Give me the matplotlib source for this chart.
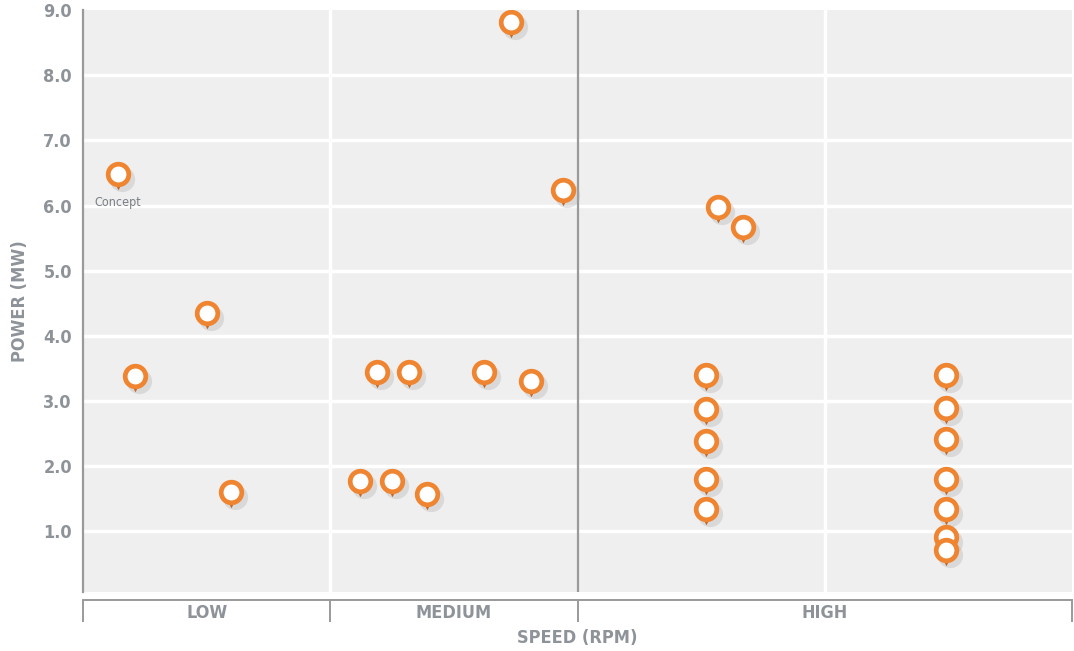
import numpy as np
import matplotlib.pyplot as plt
import matplotlib.transforms as mtransforms

# speed position (0-1 low, 1-2 medium, 2-4 high) and power (MW)
speed = [0.14, 0.21, 0.50, 0.60,
         1.12, 1.19, 1.25, 1.32, 1.39, 1.62, 1.73, 1.81, 1.94,
         2.57, 2.67, 2.52, 2.52, 2.52, 2.52, 2.52,
         3.49, 3.49, 3.49, 3.49, 3.49, 3.49, 3.49]
power = [6.48, 3.39, 4.35, 1.61,
         1.77, 3.45, 1.78, 3.45, 1.57, 3.45, 8.81, 3.30, 6.24,
         5.98, 5.67, 3.40, 2.88, 2.39, 1.81, 1.34,
         3.40, 2.90, 2.41, 1.81, 1.35, 0.92, 0.71]
categories = ['LOW', 'MEDIUM', 'HIGH']
cat_centers = [0.5, 1.5, 3.0]
cat_edges = [0, 1, 2, 4]
yticks = [1, 2, 3, 4, 5, 6, 7, 8, 9]
note_idx, note_text = 0, 'Concept'

C_ORANGE = '#ef8531'
C_TIP = '#c9641e'
C_GRAY = '#8e9399'
C_BG = '#efefef'
TXT = dict(family='DejaVu Sans', fontstretch='condensed', fontweight='bold',
           fontsize=13, color=C_GRAY)

fig = plt.figure(figsize=(10.74, 6.51), dpi=100, facecolor='white')
ax = fig.add_axes([83/1074, 1 - 592/651, 989/1074, 582/651])
ax.set_facecolor(C_BG)
ax.set_xlim(0, 4)
ax.set_ylim(0.07, 9.0)

# grid
for v in yticks[:-1]:
    ax.axhline(v, color='white', lw=2.5, zorder=1)
ax.axvline(1, color='white', lw=2.5, zorder=1)
ax.axvline(3, color='white', lw=2.5, zorder=1)
ax.axvline(2, color='#9a9a9a', lw=1.6, zorder=2)

# pins: shadow, tip, head
sh = mtransforms.ScaledTranslation(4/100, -5/100, fig.dpi_scale_trans)
ax.scatter(speed, power, s=330, color='#a8a8a8', alpha=0.3, lw=0,
           transform=ax.transData + sh, zorder=3)
tip = mtransforms.ScaledTranslation(0, -12/100, fig.dpi_scale_trans)
ax.scatter(speed, power, s=30, marker='v', color=C_TIP, lw=0,
           transform=ax.transData + tip, zorder=4)
ax.scatter(speed, power, s=220, facecolor='white', edgecolor=C_ORANGE,
           linewidth=3.4, zorder=5)

ax.annotate(note_text, (speed[note_idx], power[note_idx]),
            xytext=(0, -20), textcoords='offset points', ha='center',
            va='center', fontsize=9, color='#7a7f85', family='DejaVu Sans',
            fontstretch='condensed', zorder=6)

# axes styling
for s in ['top', 'right']:
    ax.spines[s].set_visible(False)
ax.spines['left'].set_color('#9a9a9a')
ax.spines['left'].set_linewidth(1.6)
ax.spines['bottom'].set_color('#9a9a9a')
ax.spines['bottom'].set_linewidth(1.4)
ax.spines['bottom'].set_position(('outward', 6))

ax.set_yticks(yticks)
ax.set_yticklabels([f'{v:.1f}' for v in yticks], **TXT)
ax.tick_params(axis='y', length=0, pad=8)

ax.set_xticks(cat_edges)
ax.set_xticklabels([])
ax.tick_params(axis='x', which='major', length=16, width=1.4,
               color='#9a9a9a', direction='out')
ax.set_xticks(cat_centers, minor=True)
ax.set_xticklabels(categories, minor=True, **TXT)
ax.tick_params(axis='x', which='minor', length=0, pad=3)

ax.set_xlabel('SPEED (RPM)', labelpad=1, **TXT)
ax.set_ylabel('POWER (MW)', labelpad=10, **TXT)

fig.savefig('out.png', dpi=100, facecolor='white')
